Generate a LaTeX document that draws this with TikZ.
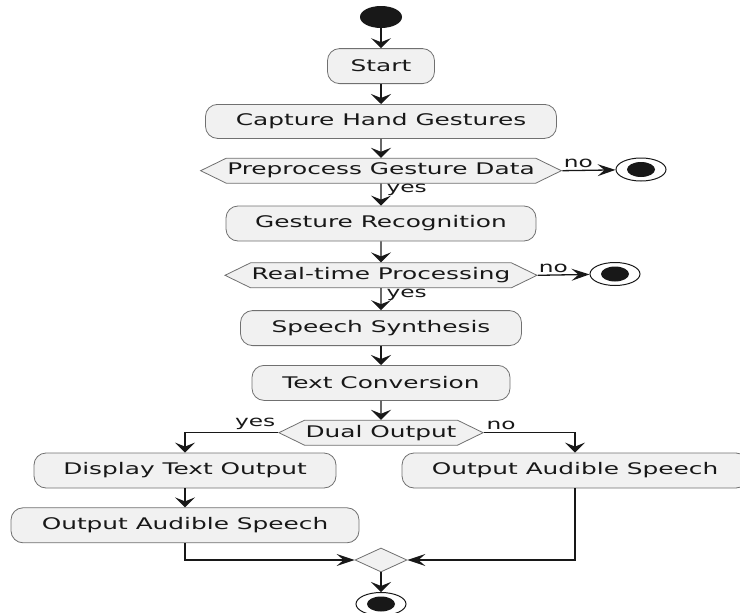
\documentclass[tikz,border=0pt]{standalone}
\usepackage{fontspec}
\newfontfamily\actfont{DejaVu Sans}[FakeStretch=1.55]
\usepackage{tikz}
\usetikzlibrary{arrows.meta,positioning,shapes.geometric,shapes.symbols}
\definecolor{ink}{HTML}{181818}
\definecolor{boxfill}{HTML}{F1F1F1}
\definecolor{rule}{HTML}{707070}
\tikzset{
  act/.style={rectangle, rounded corners=12pt, draw=rule, fill=boxfill, line width=0.8pt,
              text=ink, font=\actfont\fontsize{16}{19}\selectfont, minimum height=35pt, inner sep=0pt},
  cond/.style={signal, signal to=west and east, signal pointer angle=52, draw=rule, fill=boxfill,
               line width=0.8pt, text=ink, font=\actfont\fontsize{16}{19}\selectfont,
               minimum height=25pt, inner ysep=1pt, inner xsep=1pt},
  startc/.style={ellipse, fill=ink, minimum width=42pt, minimum height=22pt, inner sep=0pt},
  stopc/.style={ellipse, draw=ink, line width=1pt, fill=white, minimum width=50pt, minimum height=23pt,
                inner sep=0pt, path picture={\fill[ink] (path picture bounding box.center)
                ellipse [x radius=14pt, y radius=7.5pt];}},
  mergebox/.style={diamond, draw=rule, fill=boxfill, line width=0.8pt, minimum width=52pt,
               minimum height=24pt, inner sep=0pt},
  fl/.style={-{Stealth[length=10pt, width=20pt, inset=4pt]}, draw=ink, line width=1.3pt},
  flh/.style={-{Stealth[length=18pt, width=12pt, inset=7pt]}, draw=ink, line width=1.3pt},
  lbl/.style={font=\actfont\fontsize{15}{17}\selectfont, text=ink, inner sep=2pt}
}
\begin{document}
\begin{tikzpicture}[x=1pt, y=-1pt, node distance=20pt]
  \useasboundingbox (0,0) rectangle (740,613);
  % main column
  \node[startc] (init) at (381,17) {};
  \node[act, minimum width=107pt, below=20pt of init] (start) {Start};
  \node[act, minimum width=351pt, minimum height=34pt, below=20pt of start] (capt) {Capture Hand Gestures};
  \node[cond, below=19pt of capt] (prep) {Preprocess Gesture Data};
  \node[stopc] (stop1) at (641,169.5) {};
  \node[act, minimum width=310pt, below=22pt of prep] (recog) {Gesture Recognition};
  \node[cond, below=21pt of recog] (rt) {Real-time Processing};
  \node[stopc] (stop2) at (615,274) {};
  \node[act, minimum width=281pt, below=22pt of rt] (synth) {Speech Synthesis};
  \node[act, minimum width=258pt, below=19pt of synth] (conv) {Text Conversion};
  \node[cond, below=19pt of conv] (dual) {Dual Output};
  % branches
  \node[act, minimum width=302pt] (disp) at (185,470.5) {Display Text Output};
  \node[act, minimum width=348pt, below=19pt of disp] (speakL) {Output Audible Speech};
  \node[act, minimum width=346pt] (speakR) at (575,470.5) {Output Audible Speech};
  \node[mergebox] (merge) at (381,560) {};
  \node[stopc] (stop3) at (381,604) {};
  \foreach \a/\b in {init/start,start/capt,capt/prep,recog/rt,synth/conv,conv/dual,disp/speakL}
    \draw[fl] (\a) -- (\b);
  \draw[flh] (prep.east) -- node[lbl, above, pos=0.3]{no} (stop1);
  \draw[fl] (prep) -- node[lbl, right, pos=0.3, xshift=3pt]{yes} (recog);
  \draw[flh] (rt.east) -- node[lbl, above, pos=0.3]{no} (stop2);
  \draw[fl] (rt) -- node[lbl, right, pos=0.3, xshift=3pt]{yes} (synth);
  \draw[fl] (dual.west) -| node[lbl, pos=0, above left]{yes} (disp.north);
  \draw[fl] (dual.east) -| node[lbl, pos=0, above right]{no} (speakR.north);
  \draw[flh] (speakL.south) |- (merge.west);
  \draw[flh] (speakR.south) |- (merge.east);
  \draw[fl] (merge) -- (stop3);
\end{tikzpicture}
\end{document}
